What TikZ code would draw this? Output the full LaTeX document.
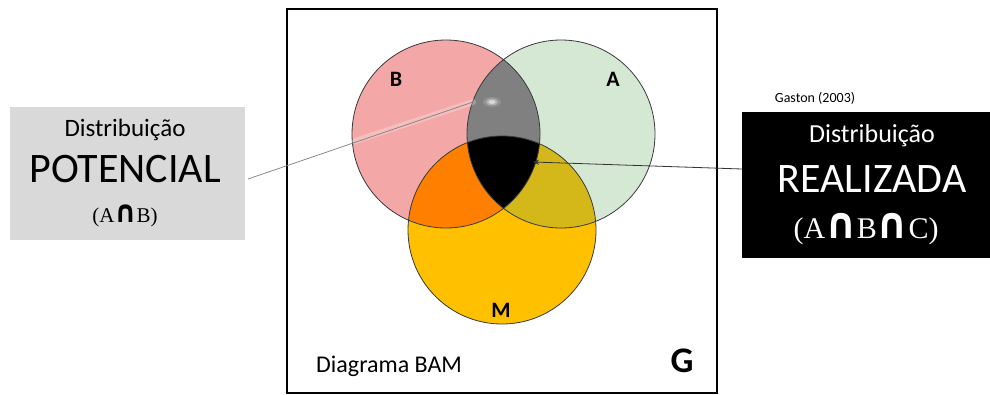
\documentclass[tikz,border=0pt]{standalone}
\usepackage{fontspec}
\setmainfont{Carlito}
\newfontfamily\serifface{Liberation Serif}
\newfontfamily\symface{DejaVu Sans}
\usetikzlibrary{arrows.meta}

\definecolor{setB}{HTML}{F4A7A7}
\definecolor{setA}{HTML}{D5E8D4}
\definecolor{setM}{HTML}{FFC000}
\definecolor{setBM}{HTML}{FF8000}
\definecolor{setAM}{HTML}{D4B81A}
\definecolor{setAB}{HTML}{808080}
\definecolor{boxgray}{HTML}{D9D9D9}
\definecolor{rim}{HTML}{3A3A3A}

\newcommand\capsign{\scalebox{1.3}[1.45]{\symface\bfseries ∩}}
\newcommand\circB{(446,134) circle[radius=94]}
\newcommand\circA{(561,134) circle[radius=94]}
\newcommand\circM{(502,230) circle[radius=94]}

\tikzset{
  setlabel/.style={font=\fontsize{22}{22}\selectfont\bfseries, inner sep=0pt},
  infobox/.style={rectangle, inner sep=0pt, draw=none},
  lbl/.style={inner sep=0pt, anchor=base}
}

\begin{document}
\begin{tikzpicture}[x=1pt, y=-1pt]
\useasboundingbox (0,0) rectangle (990,394);
\fill[white] (0,0) rectangle (990,394);

% universe frame
\draw[line width=2.8pt] (287,9) rectangle (717,393);

% single sets
\fill[setB] \circB;
\fill[setA] \circA;
\fill[setM] \circM;
% pairwise overlaps
\begin{scope}\clip \circB; \fill[setBM] \circM; \end{scope}
\begin{scope}\clip \circA; \fill[setAM] \circM; \end{scope}
\begin{scope}\clip \circA; \fill[setAB] \circB; \end{scope}
% triple overlap
\begin{scope}\clip \circA; \clip \circB; \fill[black] \circM; \end{scope}
% outlines
\draw[rim, line width=0.8pt] \circB \circA \circM;

% set names
\node[setlabel] (lB) at (396,79) {B};
\node[setlabel] (lA) at (613,79) {A};
\node[setlabel] (lM) at (501,310) {M};
\node[lbl, anchor=base west, font=\fontsize{24}{24}\selectfont] (diag) at (316,372) {Diagrama BAM};
\node[lbl, font=\fontsize{36}{36}\selectfont\bfseries] (gG) at (682,372) {G};

% potential distribution box
\node[infobox, fill=boxgray, minimum width=235pt, minimum height=133pt] (pot) at (127.5,173.5) {};
\node[lbl, font=\fontsize{25}{25}\selectfont] (pot1) at (125,136) {Distribuição};
\node[lbl, font=\fontsize{42}{42}\selectfont] (pot2) at (125,182) {POTENCIAL};
\node[lbl, font=\fontsize{21}{21}\selectfont\serifface] (pot3) at (125,222) {(A\capsign B)};

% realised distribution box
\node[infobox, fill=black, minimum width=250pt, minimum height=146pt] (rea) at (867,185) {};
\node[lbl, text=white, font=\fontsize{26}{26}\selectfont] (rea1) at (872,142) {Distribuição};
\node[lbl, text=white, font=\fontsize{42}{42}\selectfont] (rea2) at (872,192) {REALIZADA};
\node[lbl, text=white, font=\fontsize{30}{30}\selectfont\serifface] (rea3) at (866,238) {(A\capsign B\capsign C)};
\node[lbl, font=\fontsize{14}{14}\selectfont] (src) at (815,102) {Gaston (2003)};

% connectors
\coordinate (potEnd) at (248,179);
\coordinate (potTip) at (473,102);
\coordinate (reaEnd) at (742,169);
\coordinate (reaTip) at (533,162);
\draw[white, opacity=0.25, line width=6pt, line cap=round] (355,141) -- (potTip);
\foreach \r/\o in {9/0.15, 6/0.3, 3.5/0.5} {
  \fill[white, opacity=\o] (492,102) ellipse[x radius=\r, y radius=0.55*\r];
}
\draw[gray, line width=0.7pt] (potEnd) -- (potTip);
\draw[black!80, line width=0.8pt, -{Stealth[length=6pt, width=5pt]}] (reaEnd) -- (reaTip);
\end{tikzpicture}
\end{document}
